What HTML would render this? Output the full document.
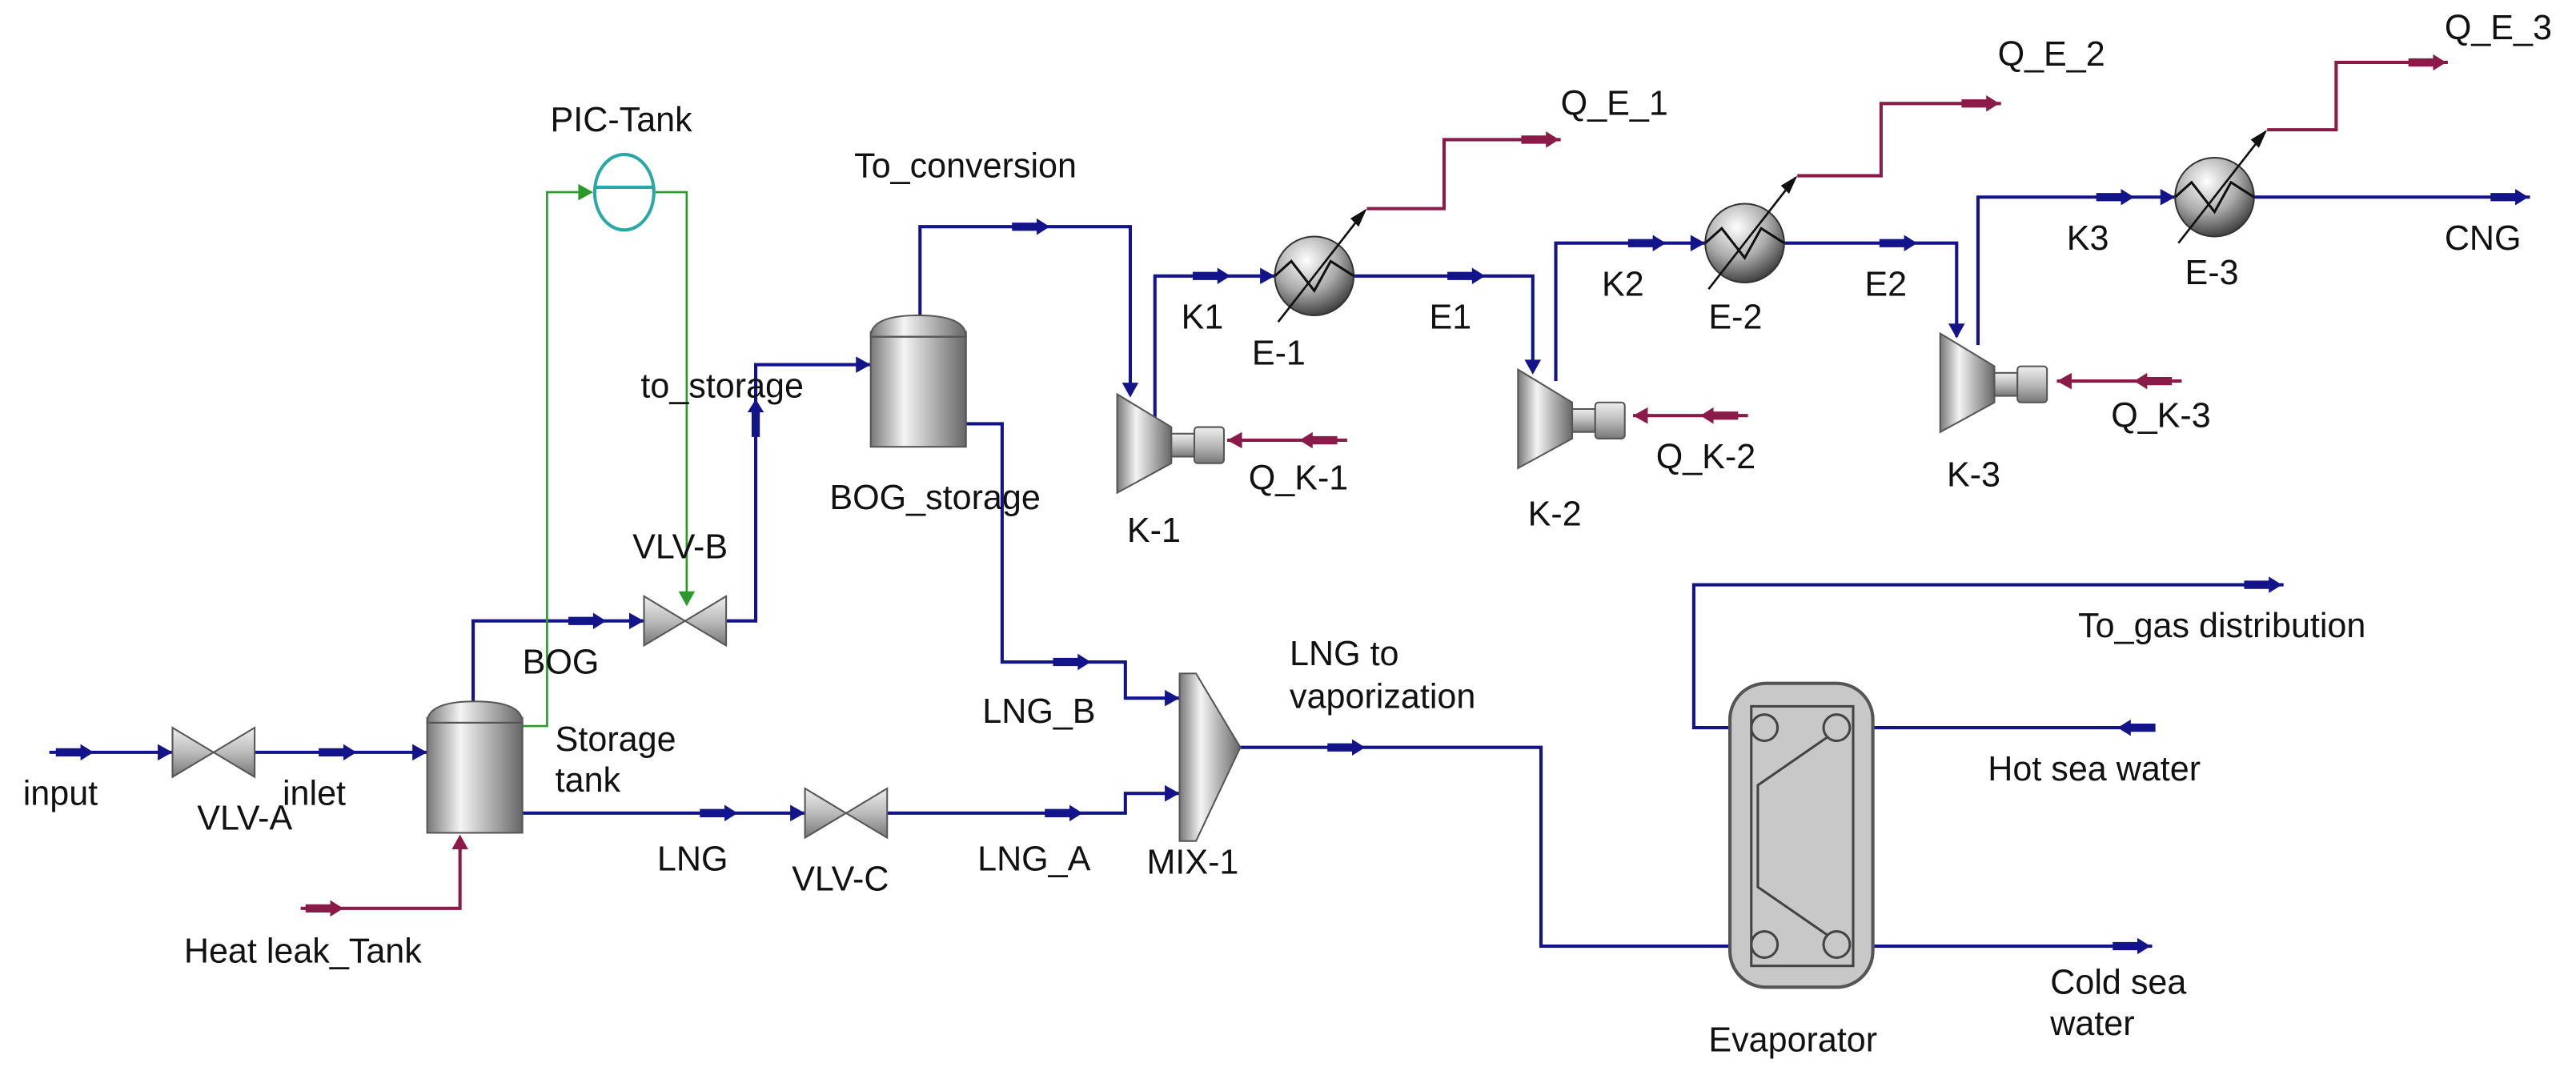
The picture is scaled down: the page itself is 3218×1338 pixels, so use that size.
<!DOCTYPE html>
<html><head><meta charset="utf-8"><style>
html,body{margin:0;padding:0;background:#fff;}
svg{display:block}
text{font-family:"Liberation Sans Narrow","Liberation Sans",sans-serif;font-size:21px;fill:#111;}
</style></head><body>
<svg width="3218" height="1338" viewBox="0 0 1568 652" preserveAspectRatio="none" xmlns="http://www.w3.org/2000/svg">
<defs>
<linearGradient id="gv" x1="0" x2="1" y1="0" y2="0"><stop offset="0" stop-color="#777"/><stop offset="0.35" stop-color="#f4f4f4"/><stop offset="1" stop-color="#666"/></linearGradient>
<linearGradient id="gk" x1="0" x2="0" y1="0" y2="1"><stop offset="0" stop-color="#eee"/><stop offset="0.5" stop-color="#bbb"/><stop offset="1" stop-color="#777"/></linearGradient>
<radialGradient id="ge" cx="0.4" cy="0.3" r="0.8"><stop offset="0" stop-color="#fff"/><stop offset="0.5" stop-color="#aaa"/><stop offset="1" stop-color="#222"/></radialGradient>
<g id="sb"><path d="M-14,0 L3,0" stroke="#14148a" stroke-width="5"/><polygon points="1,-5 9,0 1,5" fill="#14148a"/></g>
<g id="sr"><path d="M-14,0 L3,0" stroke="#8a1a48" stroke-width="5"/><polygon points="1,-5 9,0 1,5" fill="#8a1a48"/></g>
<polygon id="ab" points="-9,-5 0,0 -9,5" fill="#14148a"/>
<polygon id="ar" points="-9,-5 0,0 -9,5" fill="#8a1a48"/>
<g id="valve"><polygon points="-25,-15 0,0 -25,15" fill="url(#gk)" stroke="#555"/><polygon points="25,-15 0,0 25,15" fill="url(#gk)" stroke="#555"/></g>
<g id="comp"><polygon points="0,0 33,20 33,42 0,60" fill="url(#gv)" stroke="#555"/><rect x="33" y="24" width="14" height="14" fill="url(#gk)" stroke="#555"/><rect x="47" y="20" width="18" height="22" rx="2" fill="url(#gk)" stroke="#555"/></g>
<g id="hx"><circle r="24" fill="url(#ge)" stroke="#333"/><path d="M-24,0 L-14,-9 L0,9 L10,-9 L24,0" fill="none" stroke="#111" stroke-width="1.5"/><path d="M-22,28 L31,-40" stroke="#111" stroke-width="1.3"/><polygon points="32,-41 22,-35 27,-30" fill="#111"/></g>
</defs>
<g fill="none" stroke="#14148a" stroke-width="2">
<path d="M30,458 L105,458"/><path d="M155,458 L260,458"/>
<path d="M288,427 L288,378 L392,378"/>
<path d="M442,378 L460,378 L460,222 L530,222"/>
<path d="M560,192 L560,138 L688,138 L688,240"/>
<path d="M588,258 L610,258 L610,403 L685,403 L685,425 L718,425"/>
<path d="M318,495 L490,495"/><path d="M540,495 L685,495 L685,483 L718,483"/>
<path d="M703,255 L703,168 L776,168"/>
<path d="M824,168 L933,168 L933,226"/>
<path d="M947,232 L947,148 L1038,148"/>
<path d="M1086,148 L1191,148 L1191,205"/>
<path d="M1204,210 L1204,120 L1324,120"/>
<path d="M1372,120 L1540,120"/>
<path d="M755,455 L938,455 L938,576 L1053,576"/>
<path d="M1053,443 L1031,443 L1031,356 L1390,356"/>
<path d="M1310,443 L1140,443"/><path d="M1140,576 L1310,576"/>
</g>
<g fill="none" stroke="#8a1a48" stroke-width="2">
<path d="M183,553 L280,553 L280,510"/>
<path d="M820,268 L747,268"/><path d="M1064,253 L994,253"/><path d="M1328,232 L1252,232"/>
<path d="M832,127 L879,127 L879,85 L950,85"/>
<path d="M1094,107 L1145,107 L1145,63 L1218,63"/>
<path d="M1380,79 L1422,79 L1422,38 L1490,38"/>
</g>
<g fill="none" stroke="#2a9a2a" stroke-width="1.3">
<path d="M318,442 L333,442 L333,117 L360,117"/><path d="M399,117 L418,117 L418,368"/>
</g>
<polygon points="352,112 361,117 352,122" fill="#2a9a2a"/><polygon points="413,360 418,369 423,360" fill="#2a9a2a"/>
<use href="#sb" x="48" y="458"/><use href="#sb" x="208" y="458"/><use href="#sb" x="360" y="378"/>
<use href="#sb" transform="translate(460,252) rotate(-90)"/><use href="#sb" x="630" y="138"/><use href="#sb" x="655" y="403"/>
<use href="#sb" x="440" y="495"/><use href="#sb" x="650" y="495"/><use href="#sb" x="740" y="168"/>
<use href="#sb" x="895" y="168"/><use href="#sb" x="1005" y="148"/><use href="#sb" x="1158" y="148"/>
<use href="#sb" x="1290" y="120"/><use href="#sb" x="1530" y="120"/><use href="#sb" x="822" y="455"/>
<use href="#sb" x="1380" y="356"/><use href="#sb" x="1300" y="576"/><use href="#sb" transform="translate(1298,443) rotate(180)"/>
<use href="#sr" x="200" y="553"/><use href="#sr" x="940" y="85"/><use href="#sr" x="1208" y="63"/><use href="#sr" x="1480" y="38"/>
<use href="#sr" transform="translate(800,268) rotate(180)"/><use href="#sr" transform="translate(1044,253) rotate(180)"/><use href="#sr" transform="translate(1308,232) rotate(180)"/>
<use href="#ab" x="105" y="458"/><use href="#ab" x="260" y="458"/><use href="#ab" x="392" y="378"/><use href="#ab" x="530" y="222"/>
<use href="#ab" x="490" y="495"/><use href="#ab" x="718" y="483"/><use href="#ab" x="718" y="425"/><use href="#ab" x="776" y="168"/><use href="#ab" x="1038" y="148"/><use href="#ab" x="1324" y="120"/>
<use href="#ab" transform="translate(688,242) rotate(90)"/><use href="#ab" transform="translate(933,228) rotate(90)"/><use href="#ab" transform="translate(1191,206) rotate(90)"/>
<use href="#ar" transform="translate(280,508) rotate(-90)"/><use href="#ar" transform="translate(747,268) rotate(180)"/><use href="#ar" transform="translate(994,253) rotate(180)"/><use href="#ar" transform="translate(1252,232) rotate(180)"/>
<use href="#valve" x="130" y="458"/><use href="#valve" x="417" y="378"/><use href="#valve" x="515" y="495"/>
<g><rect x="260" y="437" width="58" height="70" fill="url(#gv)" stroke="#555"/><path d="M260,440 Q260,427 289,427 Q318,427 318,440 Z" fill="url(#gv)" stroke="#555"/><line x1="260" y1="440" x2="318" y2="440" stroke="#555"/></g>
<g><rect x="530" y="202" width="58" height="70" fill="url(#gv)" stroke="#555"/><path d="M530,205 Q530,192 559,192 Q588,192 588,205 Z" fill="url(#gv)" stroke="#555"/><line x1="530" y1="205" x2="588" y2="205" stroke="#555"/></g>
<polygon points="718,410 728,410 755,455 728,512 718,512" fill="url(#gv)" stroke="#555"/>
<ellipse cx="380" cy="117" rx="18" ry="23" fill="none" stroke="#2aa8a8" stroke-width="2"/><line x1="362" y1="114" x2="398" y2="114" stroke="#2aa8a8" stroke-width="2"/>
<use href="#comp" x="680" y="240"/><use href="#comp" x="924" y="225"/><use href="#comp" x="1181" y="203"/>
<use href="#hx" x="800" y="168"/><use href="#hx" x="1062" y="148"/><use href="#hx" x="1348" y="120"/>
<g><rect x="1053" y="416" width="87" height="185" rx="22" fill="#c8c8c8" stroke="#555" stroke-width="2"/><rect x="1066" y="430" width="62" height="158" fill="none" stroke="#444" stroke-width="1.5"/>
<g fill="none" stroke="#444" stroke-width="1.5"><circle cx="1074" cy="443" r="8"/><circle cx="1118" cy="443" r="8"/><circle cx="1074" cy="575" r="8"/><circle cx="1118" cy="575" r="8"/>
<path d="M1112,449 L1070,478 L1070,540 L1112,569"/></g></g>
<text x="14" y="490">input</text><text x="120" y="505">VLV-A</text><text x="172" y="490">inlet</text>
<text x="338" y="457">Storage</text><text x="338" y="482">tank</text><text x="318" y="410">BOG</text>
<text x="385" y="340">VLV-B</text><text x="390" y="242">to_storage</text><text x="335" y="80">PIC-Tank</text>
<text x="520" y="108">To_conversion</text><text x="505" y="310">BOG_storage</text><text x="598" y="440">LNG_B</text>
<text x="400" y="530">LNG</text><text x="482" y="542">VLV-C</text><text x="595" y="530">LNG_A</text><text x="698" y="532">MIX-1</text>
<text x="112" y="586">Heat leak_Tank</text>
<text x="686" y="330">K-1</text><text x="719" y="200">K1</text><text x="762" y="222">E-1</text><text x="760" y="298">Q_K-1</text><text x="950" y="70">Q_E_1</text>
<text x="870" y="200">E1</text><text x="930" y="320">K-2</text><text x="1008" y="285">Q_K-2</text><text x="975" y="180">K2</text><text x="1040" y="200">E-2</text>
<text x="1216" y="40">Q_E_2</text><text x="1135" y="180">E2</text><text x="1185" y="296">K-3</text><text x="1285" y="260">Q_K-3</text>
<text x="1258" y="152">K3</text><text x="1330" y="173">E-3</text><text x="1488" y="24">Q_E_3</text><text x="1488" y="152">CNG</text>
<text x="785" y="405">LNG to</text><text x="785" y="431">vaporization</text><text x="1265" y="388">To_gas distribution</text>
<text x="1210" y="475">Hot sea water</text><text x="1248" y="605">Cold sea</text><text x="1248" y="630">water</text><text x="1040" y="640">Evaporator</text>
</svg>
</body></html>
